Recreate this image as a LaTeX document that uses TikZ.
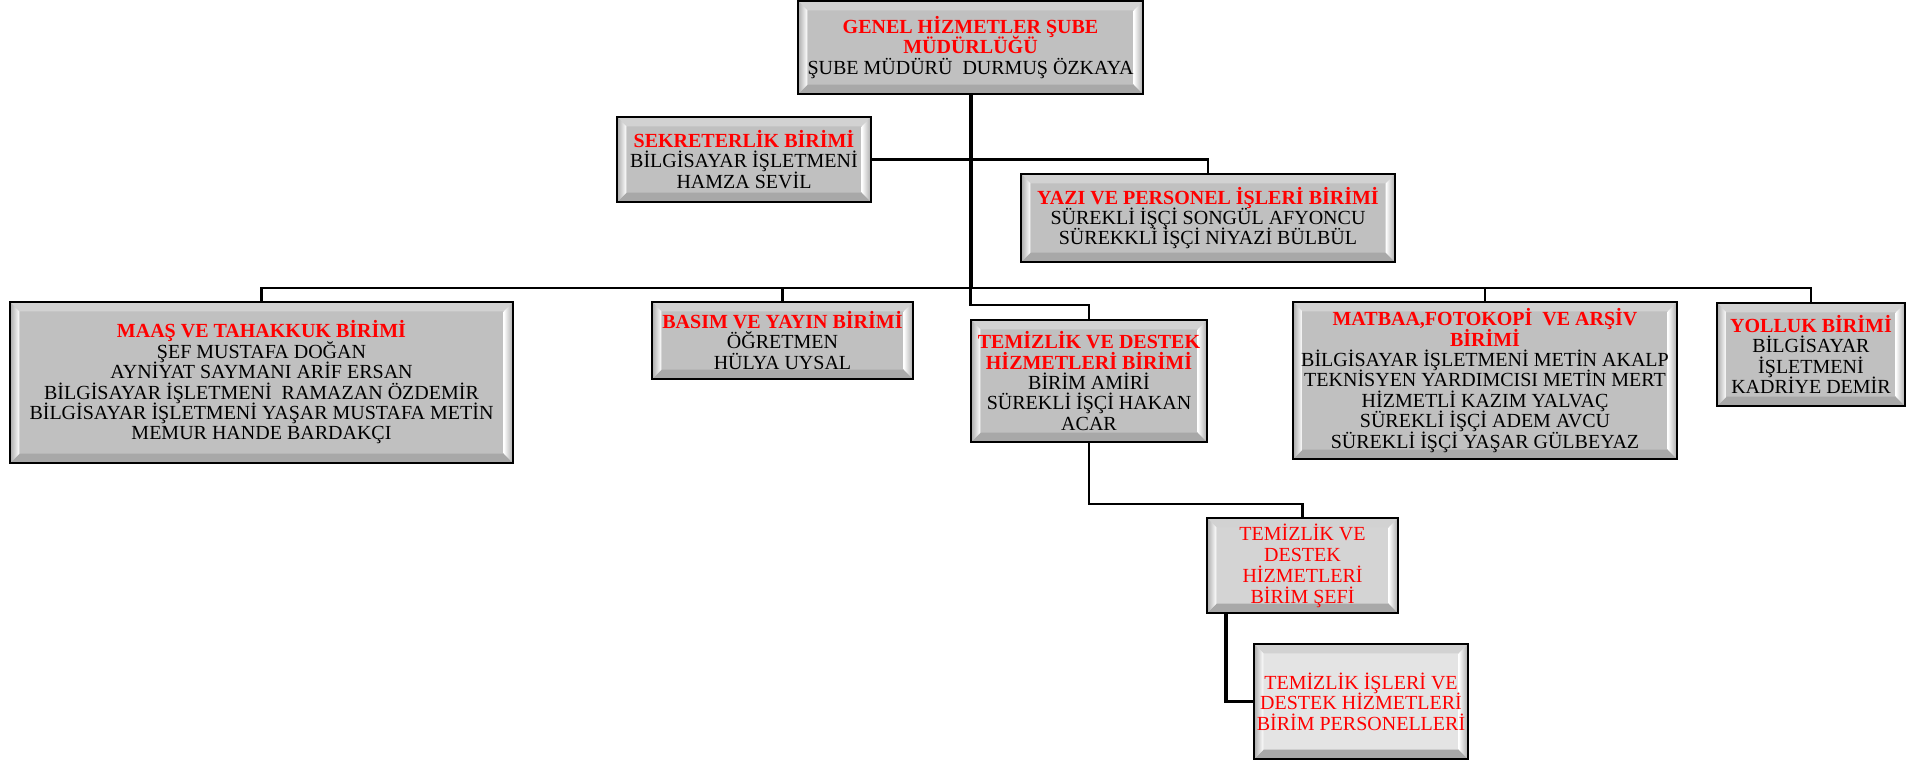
\documentclass[tikz,border=0pt]{standalone}
\usepackage{fontspec}
\setmainfont{Liberation Serif}
\usetikzlibrary{calc}
\definecolor{titlered}{HTML}{FF0000}
\definecolor{boxgray}{HTML}{C0C0C0}
\definecolor{lightbox}{HTML}{D4D4D4}
\definecolor{palebox}{HTML}{E4E4E4}
\definecolor{topband}{HTML}{D2D2D2}
\definecolor{botband}{HTML}{A8A8A8}
\definecolor{sideband}{HTML}{ABABAB}
\newcommand\ttl[1]{\textcolor{titlered}{\bfseries #1}}
\newcommand\boxfont{\fontsize{15}{15.3}\selectfont\lineskiplimit=-20pt\relax}
\newcommand\sefifont{\fontsize{15}{15.75}\selectfont\lineskiplimit=-20pt\relax}
\begin{document}
\begin{tikzpicture}[x=0.75pt,y=-0.75pt,
  bevelbox/.style={draw=black, line width=2pt, fill=boxgray, inner sep=0pt, align=center,
    font=\boxfont,
    path picture={
      \coordinate (bSW) at (path picture bounding box.south west);
      \coordinate (bNE) at (path picture bounding box.north east);
      \coordinate (bNW) at (path picture bounding box.north west);
      \coordinate (bSE) at (path picture bounding box.south east);
      \coordinate (iSW) at ([shift={(7pt,7pt)}]bSW);
      \coordinate (iNE) at ([shift={(-7pt,-7pt)}]bNE);
      \coordinate (iNW) at ([shift={(7pt,-7pt)}]bNW);
      \coordinate (iSE) at ([shift={(-7pt,7pt)}]bSE);
      \fill[topband] (bNW) -- (bNE) -- (iNE) -- (iNW) -- cycle;
      \fill[botband] (bSW) -- (bSE) -- (iSE) -- (iSW) -- cycle;
      \shade[left color=sideband, right color=white] (bNW) -- (iNW) -- (iSW) -- (bSW) -- cycle;
      \shade[left color=white, right color=sideband] (bNE) -- (iNE) -- (iSE) -- (bSE) -- cycle;
    }},
  conn/.style={line width=1.7pt},
  trunk/.style={line width=3pt}
]
\useasboundingbox (0,0) rectangle (1914,763);

\coordinate (busY) at (0,288);
\coordinate (tY) at (0,305);
\coordinate (sY) at (0,504);

\node[bevelbox, minimum width=258.75pt, minimum height=69.75pt] (top) at (970.5,47.5)
  {\ttl{GENEL HİZMETLER ŞUBE}\\ \ttl{MÜDÜRLÜĞÜ}\\ ŞUBE MÜDÜRÜ~ DURMUŞ ÖZKAYA};
\node[bevelbox, minimum width=190.5pt, minimum height=63.75pt] (sek) at (744,159.5)
  {\ttl{SEKRETERLİK BİRİMİ}\\ BİLGİSAYAR İŞLETMENİ\\ HAMZA SEVİL};
\node[bevelbox, minimum width=280.5pt, minimum height=66pt] (yazi) at (1208,218)
  {\ttl{YAZI VE PERSONEL İŞLERİ BİRİMİ}\\ SÜREKLİ İŞÇİ SONGÜL AFYONCU\\ SÜREKKLİ İŞÇİ NİYAZİ BÜLBÜL};
\node[bevelbox, minimum width=377.25pt, minimum height=120.75pt] (maas) at (261.5,382.5)
  {\ttl{MAAŞ VE TAHAKKUK BİRİMİ}\\ ŞEF MUSTAFA DOĞAN\\ AYNİYAT SAYMANI ARİF ERSAN\\ BİLGİSAYAR İŞLETMENİ~ RAMAZAN ÖZDEMİR\\ BİLGİSAYAR İŞLETMENİ YAŞAR MUSTAFA METİN\\ MEMUR HANDE BARDAKÇI};
\node[bevelbox, minimum width=195.75pt, minimum height=57.75pt] (basim) at (782.5,340.5)
  {\ttl{BASIM VE YAYIN BİRİMİ}\\ ÖĞRETMEN\\ HÜLYA UYSAL};
\node[bevelbox, minimum width=177pt, minimum height=91.5pt] (temiz) at (1089,381)
  {\ttl{TEMİZLİK VE DESTEK}\\ \ttl{HİZMETLERİ BİRİMİ}\\ BİRİM AMİRİ\\ SÜREKLİ İŞÇİ HAKAN\\ ACAR};
\node[bevelbox, minimum width=288pt, minimum height=117.75pt] (matbaa) at (1485,380.5)
  {\ttl{MATBAA,FOTOKOPİ~ VE ARŞİV}\\ \ttl{BİRİMİ}\\ BİLGİSAYAR İŞLETMENİ METİN AKALP\\ TEKNİSYEN YARDIMCISI METİN MERT\\ HİZMETLİ KAZIM YALVAÇ\\ SÜREKLİ İŞÇİ ADEM AVCU\\ SÜREKLİ İŞÇİ YAŞAR GÜLBEYAZ};
\node[bevelbox, minimum width=141pt, minimum height=77.25pt] (yolluk) at (1811,354.5)
  {\ttl{YOLLUK BİRİMİ}\\ BİLGİSAYAR\\ İŞLETMENİ\\ KADRİYE DEMİR};
\node[bevelbox, fill=lightbox, text=titlered, font=\sefifont,
  minimum width=143.25pt, minimum height=71.25pt] (sefi) at (1302.5,565.5)
  {TEMİZLİK VE\\ DESTEK\\ HİZMETLERİ\\ BİRİM ŞEFİ};
\node[bevelbox, fill=palebox, text=titlered, minimum width=160.5pt, minimum height=86.25pt] (pers) at (1361,701.5)
  {TEMİZLİK İŞLERİ VE\\ DESTEK HİZMETLERİ\\ BİRİM PERSONELLERİ};

% connectors
\draw[trunk] (top.south) -- (top.south |- busY);
\draw[conn, line width=2pt] (top.south |- busY) -- (top.south |- tY) -| (temiz.north);
\draw[conn] (maas.north) -- (maas.north |- busY) -- (yolluk.north |- busY) -- (yolluk.north);
\draw[conn] (basim.north) -- (basim.north |- busY);
\draw[conn] (matbaa.north) -- (matbaa.north |- busY);
\draw[conn] (sek.east) -- (sek.east -| yazi.north) -- (yazi.north);
\draw[conn] (temiz.south) -- (temiz.south |- sY) -| (sefi.north);
\coordinate (sefiOut) at ($(sefi.south west)!0.105!(sefi.south east)$);
\draw[line width=2.4pt] (sefiOut) |- (pers.west);
\end{tikzpicture}
\end{document}
